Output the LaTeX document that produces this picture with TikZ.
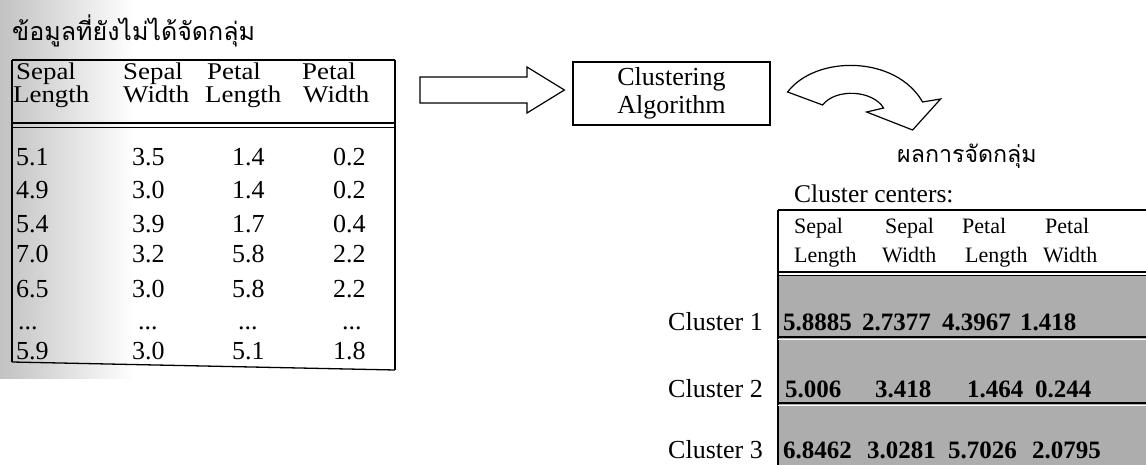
\documentclass[tikz,border=0pt]{standalone}
\usepackage{fontspec}
\setmainfont{Liberation Serif}
\newfontfamily\thaifont[Script=Thai]{Loma}
\newfontfamily\widefont[FakeStretch=1.12]{Liberation Serif}
\usetikzlibrary{calc}

\begin{document}
\begin{tikzpicture}[x=1pt,y=-1pt,
  txt/.style={anchor=base west,inner sep=0pt},
  lhead/.style={txt,font=\widefont\fontsize{24}{26}\selectfont},
  ldata/.style={txt,font=\fontsize{26}{28}\selectfont},
  rhead/.style={txt,font=\fontsize{22}{24}\selectfont},
  rval/.style={txt,font=\bfseries\fontsize{25}{28}\selectfont},
  rlabel/.style={anchor=base east,inner sep=0pt,font=\fontsize{26}{28}\selectfont},
  thaititle/.style={txt,font=\thaifont\fontsize{25}{27}\selectfont},
  frame/.style={line width=1.3pt},
  blockarrow/.style={draw,line width=1.2pt,fill=white,line join=miter}]

\useasboundingbox (0,0) rectangle (1146,465);

% greyish scanner shading along the left margin
\shade[left color=black!24,right color=white] (0,0) rectangle (135,378);

% ---------- input data ----------
\node[thaititle] (intitle) at (12,41) {ข้อมูลที่ยังไม่ได้จัดกลุ่ม};

\coordinate (inNW) at (12,60);
\coordinate (inNE) at (395,60);
\coordinate (inSW) at (12,362);
\coordinate (inSE) at (395,370);
\draw[frame] (inNW) -- (inNE);
\draw[line width=2pt] (inNW) -- (inSW);
\draw[line width=1.1pt] (inNE) -- (inSE);
\draw[frame] (inSW) -- (inSE);
\draw[line width=1.6pt] (12,123) -- (395,123);
\draw[line width=0.8pt] (12,127) -- (395,127);

\node[lhead] (h1a) at (16,80)  {Sepal};
\node[lhead] (h1b) at (13,103) {Length};
\node[lhead] (h2a) at (123,80) {Sepal};
\node[lhead] (h2b) at (123,103){Width};
\node[lhead] (h3a) at (207,80) {Petal};
\node[lhead] (h3b) at (205,103){Length};
\node[lhead] (h4a) at (302,80) {Petal};
\node[lhead] (h4b) at (303,103){Width};

\foreach \y/\a/\b/\c/\d [count=\i] in {166/5.1/3.5/1.4/0.2, 199/4.9/3.0/1.4/0.2,
    233/5.4/3.9/1.7/0.4, 262/7.0/3.2/5.8/2.2, 297/6.5/3.0/5.8/2.2, 359/5.9/3.0/5.1/1.8}{
  \node[ldata] (d\i a) at (16,\y)  {\a};
  \node[ldata] (d\i b) at (132,\y) {\b};
  \node[ldata] (d\i c) at (232,\y) {\c};
  \node[ldata] (d\i d) at (333,\y) {\d};
}
\node[ldata] (dota) at (18,329)  {...};
\node[ldata] (dotb) at (138,329) {...};
\node[ldata] (dotc) at (238,329) {...};
\node[ldata] (dotd) at (342,329) {...};

% ---------- algorithm ----------
\node[draw,line width=1.2pt,minimum width=197pt,minimum height=63pt,align=center,
      font=\fontsize{26}{28}\selectfont,inner sep=0pt] (algo) at (671.5,93.5)
      {Clustering\\Algorithm};

% block arrow from the data table to the algorithm box
\path[blockarrow]
  ($(inNE)+(25,17)$) coordinate (s1)
  -- ++(107,0) -- ++(0,-10)
  -- ($(algo.west)+(-8,-3.5)$)
  -- ($(s1)+(107,36)$) -- ++(0,-10) -- ++(-107,0) -- cycle;

% curved arrow leaving the algorithm box
\begin{scope}[shift={(algo.east)}]
  \path[blockarrow]
    (17,-1.5) .. controls (45,-38.5) and (125,-38.5) .. (152,8.5)
    -- (170,5.5) -- (142,36.5) -- (96,18.5) -- (113,14.5)
    .. controls (102,-3.5) and (65,-5.5) .. (52,11.5) -- cycle;
\end{scope}

% ---------- result ----------
\node[thaititle,font=\thaifont\fontsize{23.2}{25}\selectfont] (outtitle) at (897,163) {ผลการจัดกลุ่ม};
\node[txt,font=\fontsize{25.5}{28}\selectfont] (cc) at (794,203) {Cluster centers:};

\fill[black!32] (778,276) rectangle (1146,465);
\coordinate (outNW) at (778,210);
\draw[line width=1.2pt] (outNW) -- (1146,210);
\draw[line width=1.5pt] (outNW) -- (778,465);
\draw[line width=1.6pt] (778,272) -- (1146,272);
\draw[line width=0.8pt] (778,275.5) -- (1146,275.5);
\foreach \y in {337,403}{
  \draw[line width=2.2pt] (778,\y) -- (1146,\y);
  \draw[white,line width=1.2pt] (778,\y+2.6) -- (1146,\y+2.6);
}

\node[rhead] (r1a) at (794,234) {Sepal};
\node[rhead] (r1b) at (794,262) {Length};
\node[rhead] (r2a) at (885,234) {Sepal};
\node[rhead] (r2b) at (882,262) {Width};
\node[rhead] (r3a) at (962,234) {Petal};
\node[rhead] (r3b) at (965,262) {Length};
\node[rhead] (r4a) at (1045,234){Petal};
\node[rhead] (r4b) at (1043,262){Width};

\node[rlabel] (c1) at (763,330) {Cluster 1};
\node[rlabel] (c2) at (763,397) {Cluster 2};
\node[rlabel] (c3) at (763,458) {Cluster 3};

\node[rval] (v1a) at (783,330)  {5.8885};
\node[rval] (v1b) at (862,330)  {2.7377};
\node[rval] (v1c) at (942,330)  {4.3967};
\node[rval] (v1d) at (1020,330) {1.418};
\node[rval] (v2a) at (785,397)  {5.006};
\node[rval] (v2b) at (875,397)  {3.418};
\node[rval] (v2c) at (967,397)  {1.464};
\node[rval] (v2d) at (1035,397) {0.244};
\node[rval] (v3a) at (783,458)  {6.8462};
\node[rval] (v3b) at (867,458)  {3.0281};
\node[rval] (v3c) at (948,458)  {5.7026};
\node[rval] (v3d) at (1032,458) {2.0795};
\end{tikzpicture}
\end{document}
